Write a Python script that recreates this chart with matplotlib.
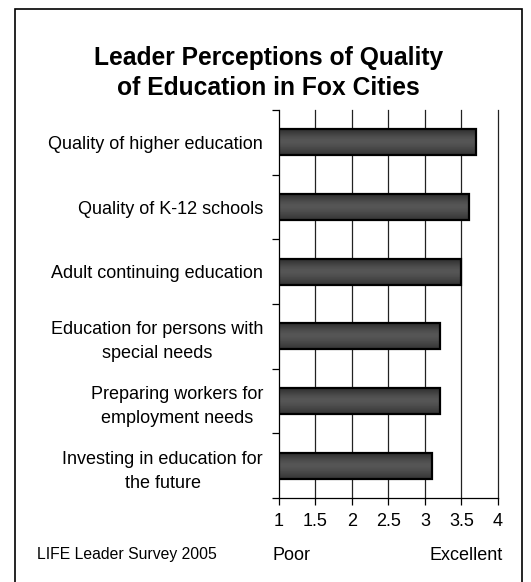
import numpy as np
import matplotlib.pyplot as plt
from matplotlib.patches import Rectangle

plt.rcParams['font.family'] = ['Liberation Sans', 'DejaVu Sans']

# Data
labels = ['Quality of higher education',
          'Quality of K-12 schools',
          'Adult continuing education',
          'Education for persons with\nspecial needs',
          'Preparing workers for\nemployment needs',
          'Investing in education for\nthe future']
scores = [3.7, 3.6, 3.5, 3.2, 3.2, 3.1]
xticks = [1, 1.5, 2, 2.5, 3, 3.5, 4]
xtick_labels = ['1', '1.5', '2', '2.5', '3', '3.5', '4']

fig = plt.figure(figsize=(5.31, 5.82), dpi=100)
ax = fig.add_axes([0.5254, 0.1443, 0.4124, 0.6667])

n = len(labels)
ypos = np.arange(n)[::-1]  # first label at top
bar_h = 0.4

# grid lines
for x in xticks[1:]:
    ax.axvline(x, color='#222222', lw=0.9, zorder=1, clip_on=False)

# bars with a soft vertical gradient
grad = np.array([0.20, 0.26, 0.31, 0.34, 0.33, 0.30, 0.26, 0.22])[:, None]
for y, v in zip(ypos, scores):
    rect = Rectangle((1, y - bar_h / 2), v - 1, bar_h, facecolor='none',
                     edgecolor='black', lw=1.6, zorder=4)
    ax.add_patch(rect)
    im = ax.imshow(grad, cmap='gray', vmin=0, vmax=1, aspect='auto',
                   extent=(1, v, y - bar_h / 2, y + bar_h / 2), zorder=3,
                   interpolation='bicubic')
    im.set_clip_path(rect)

ax.set_xlim(1, 4)
ax.set_ylim(-0.5, n - 0.5)

ax.set_yticks(ypos)
ax.set_yticklabels(labels, fontsize=13, linespacing=1.55, multialignment='center')
ax.set_yticks(np.arange(n + 1) - 0.5, minor=True)
ax.tick_params(axis='y', which='major', length=0, pad=11.5)
ax.tick_params(axis='y', which='minor', length=5, width=0.9, direction='out')

ax.set_xticks(xticks)
ax.set_xticklabels(xtick_labels, fontsize=13)
ax.tick_params(axis='x', length=5, width=0.9, direction='out', pad=6)

for s in ['top', 'right']:
    ax.spines[s].set_visible(False)
for s in ['left', 'bottom']:
    ax.spines[s].set_linewidth(0.9)

fig.text(0.505, 1 - 73 / 582, 'Leader Perceptions of Quality\nof Education in Fox Cities',
         ha='center', va='center', fontsize=17.7, fontweight='bold', linespacing=1.36)

fig.text(273 / 531, 1 - 555 / 582, 'Poor', ha='left', va='center', fontsize=13)
fig.text(503 / 531, 1 - 555 / 582, 'Excellent', ha='right', va='center', fontsize=13)
fig.text(37 / 531, 1 - 555 / 582, 'LIFE Leader Survey 2005', ha='left', va='center', fontsize=11.3)

# outer frame
fig.add_artist(Rectangle((15 / 531, -0.01), (522 - 15) / 531, 1 - 9 / 582 + 0.01,
                         transform=fig.transFigure, fill=False, edgecolor='black', lw=1.2))

fig.savefig('out.png', dpi=100, facecolor='white')
